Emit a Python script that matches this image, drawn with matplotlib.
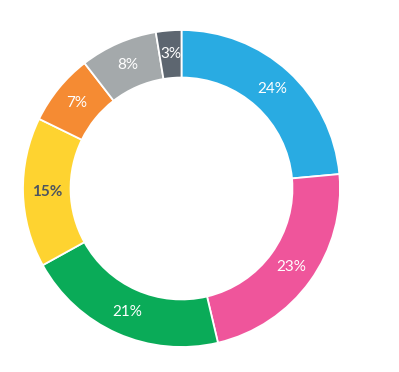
import matplotlib.pyplot as plt

# share of each slice, clockwise from the top
values = [23.6, 22.8, 20.7, 15.3, 7.3, 7.9, 2.6]
colors = ['#29abe2', '#ef559b', '#0aab58', '#fed330', '#f58b33', '#a4a9ab', '#5d6670']
text_colors = ['white', 'white', 'white', '#4d5560', 'white', 'white', 'white']

fig = plt.figure(figsize=(3.99, 3.72), dpi=100)

# centre of ring sits at (181.5, 188.5) px, outer radius ~158.5 px
r_px = 158.5 * 1.05
ax = fig.add_axes([(181.5 - r_px) / 399, (183.5 - r_px) / 372, 2 * r_px / 399, 2 * r_px / 372])

wedges, texts, autotexts = ax.pie(
    values, colors=colors, startangle=90, counterclock=False,
    autopct='%.0f%%', pctdistance=0.85,
    wedgeprops=dict(width=0.30, edgecolor='white', linewidth=1.3),
    textprops=dict(fontfamily='Lato', fontsize=11),
)
for t, c in zip(autotexts, text_colors):
    t.set_color(c)
autotexts[3].set_fontweight('bold')

ax.set_xlim(-1.05, 1.05)
ax.set_ylim(-1.05, 1.05)
ax.set_aspect('equal')
ax.axis('off')

fig.savefig('out.png', dpi=100)
